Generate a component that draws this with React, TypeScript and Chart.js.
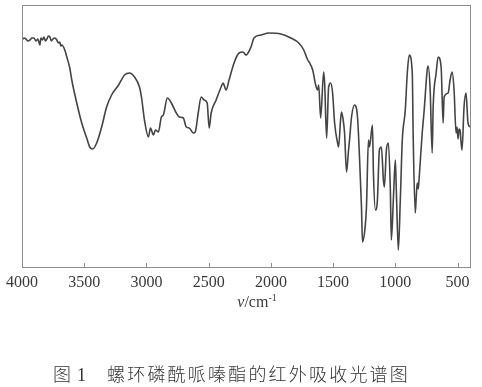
import React, { useEffect, useRef } from "react";
import { Chart, registerables } from "chart.js";

Chart.register(...registerables);

// Wavenumber (cm^-1), reversed axis from 4000 to 400
const WAVENUMBERS: number[] = [
  4000, 3984, 3968, 3952, 3936, 3920, 3904, 3888, 3872, 3856, 3848, 3836, 3824, 3812, 3800, 3788, 3776, 3764, 3752, 3736,
  3720, 3708, 3696, 3688, 3680, 3656, 3640, 3616, 3600, 3560, 3520, 3480, 3456, 3432, 3400, 3360, 3320, 3280,
  3224, 3176, 3136, 3096, 3056, 3040, 3016, 2984, 2968, 2944, 2928, 2904, 2880, 2864, 2832, 2800, 2760, 2736,
  2704, 2680, 2656, 2624, 2608, 2584, 2560, 2536, 2512, 2496, 2480, 2440, 2400, 2384, 2360, 2336, 2296, 2256,
  2224, 2200, 2160, 2136, 2080, 2016, 1920, 1840, 1776, 1736, 1704, 1688, 1664, 1640, 1624, 1616, 1600, 1576,
  1568, 1552, 1536, 1520, 1504, 1488, 1464, 1456, 1440, 1432, 1416, 1408, 1392, 1376, 1368, 1352, 1328, 1304,
  1288, 1272, 1264, 1248, 1232, 1216, 1208, 1184, 1176, 1160, 1144, 1128, 1112, 1096, 1088, 1072, 1056, 1040,
  1032, 1016, 1000, 992, 976, 960, 944, 920, 904, 888, 864, 856, 840, 832, 824, 816, 808, 784, 768, 744, 736,
  720, 704, 696, 672, 656, 632, 616, 608, 576, 560, 544, 528, 512, 504, 496, 488, 480, 472, 464, 448, 432, 416, 400,
];

// Transmittance (arbitrary units, 0 = bottom of frame)
const TRANSMITTANCE: number[] = [
  227, 229, 228, 226, 227, 229, 229, 226, 228, 222, 229, 227, 230, 226, 228, 231, 230, 226, 228, 229,
  227, 224, 225, 221, 222, 217, 210, 199, 187, 164, 144, 129, 120, 118, 124, 140, 160, 172,
  182, 192, 194, 190, 180, 170, 147, 130, 139, 132, 137, 135, 150, 152, 169, 164, 154, 150,
  149, 140, 139, 134, 135, 154, 170, 167, 164, 139, 154, 167, 180, 184, 177, 187, 204, 214,
  215, 212, 220, 229, 232, 234, 233, 229, 224, 217, 207, 204, 197, 182, 177, 182, 149, 195,
  184, 129, 180, 184, 174, 144, 124, 120, 147, 155, 144, 134, 95, 117, 127, 150, 162, 150,
  110, 60, 25, 34, 60, 127, 120, 142, 94, 57, 67, 117, 120, 87, 80, 117, 124, 77,
  27, 67, 107, 77, 17, 67, 127, 157, 194, 212, 194, 127, 54, 70, 84, 78, 90, 134, 157, 197, 201,
  177, 114, 160, 194, 210, 200, 144, 170, 174, 187, 195, 177, 134, 140, 128, 138, 137, 125, 117, 160, 174, 144, 140,
];

const X_TICKS: number[] = [4000, 3500, 3000, 2500, 2000, 1500, 1000, 500];

const X_MIN = 400;
const X_MAX = 4000;

const W = 482;
const H = 387;

const framePlugin = {
  id: "frameAndTicks",
  afterDraw(chart: any) {
    const { ctx, chartArea } = chart;
    const xs = chart.scales.x;
    ctx.save();
    ctx.strokeStyle = "#8c8c8c";
    ctx.lineWidth = 1;
    ctx.strokeRect(
      Math.round(chartArea.left) + 0.5,
      Math.round(chartArea.top) + 0.5,
      Math.round(chartArea.right - chartArea.left),
      Math.round(chartArea.bottom - chartArea.top)
    );
    ctx.beginPath();
    for (const v of X_TICKS) {
      const x = Math.round(xs.getPixelForValue(v)) + 0.5;
      const b = Math.round(chartArea.bottom);
      ctx.moveTo(x, b);
      ctx.lineTo(x, b - 4);
    }
    ctx.stroke();
    ctx.restore();
  },
};

export default function App() {
  const canvasRef = useRef<HTMLCanvasElement | null>(null);

  useEffect(() => {
    if (!canvasRef.current) return;
    const data = WAVENUMBERS.map((x, i) => ({ x, y: TRANSMITTANCE[i] }));
    const chart = new Chart(canvasRef.current, {
      type: "line",
      data: {
        datasets: [
          {
            data,
            borderColor: "#444444",
            borderWidth: 1.6,
            pointRadius: 0,
            cubicInterpolationMode: "monotone",
            fill: false,
          },
        ],
      },
      options: {
        animation: false,
        responsive: false,
        devicePixelRatio: 1,
        parsing: false as any,
        layout: { padding: { left: 20, right: 12, top: 5, bottom: 0 } },
        plugins: {
          legend: { display: false },
          tooltip: { enabled: false },
          title: { display: false },
        },
        scales: {
          x: {
            type: "linear",
            reverse: true,
            min: X_MIN,
            max: X_MAX,
            afterBuildTicks: (scale: any) => {
              scale.ticks = X_TICKS.map((v) => ({ value: v }));
            },
            afterFit: (scale: any) => {
              scale.height = 120;
            },
            grid: { display: false, drawTicks: false },
            border: { display: false },
            ticks: {
              autoSkip: false,
              maxRotation: 0,
              padding: 6,
              color: "#3a3a3a",
              font: { family: "'Liberation Serif', 'DejaVu Serif', serif", size: 16 },
              callback: (v: any) => String(v),
            },
          },
          y: {
            type: "linear",
            display: false,
            min: 0,
            max: 262,
          },
        },
      },
      plugins: [framePlugin],
    });
    return () => chart.destroy();
  }, []);

  return (
    <div style={{ position: "absolute", left: 0, top: 0, width: W, height: H, background: "#fff" }}>
      <canvas ref={canvasRef} width={W} height={H} style={{ position: "absolute", left: 0, top: 0, width: W, height: H }} />
      <div
        style={{
          position: "absolute",
          left: 0,
          top: 293,
          width: 514,
          textAlign: "center",
          fontFamily: "'Liberation Serif', 'DejaVu Serif', serif",
          fontSize: 16,
          color: "#3a3a3a",
          lineHeight: "18px",
        }}
      >
        <i>v</i>/cm<sup style={{ fontSize: 10, verticalAlign: "6px", lineHeight: 0 }}>-1</sup>
      </div>
      <div
        style={{
          position: "absolute",
          left: 53,
          top: 362,
          whiteSpace: "nowrap",
          fontFamily: "'Noto Sans CJK SC', 'Noto Sans', sans-serif",
          fontWeight: 300,
          fontSize: 18,
          color: "#333",
          lineHeight: "22px",
        }}
      >
        <span>图</span>
        <span style={{ fontFamily: "'Liberation Serif', serif", marginLeft: 6 }}>1</span>
        <span style={{ marginLeft: 21, letterSpacing: "2.2px" }}>螺环磷酰哌嗪酯的红外吸收光谱图</span>
      </div>
    </div>
  );
}
